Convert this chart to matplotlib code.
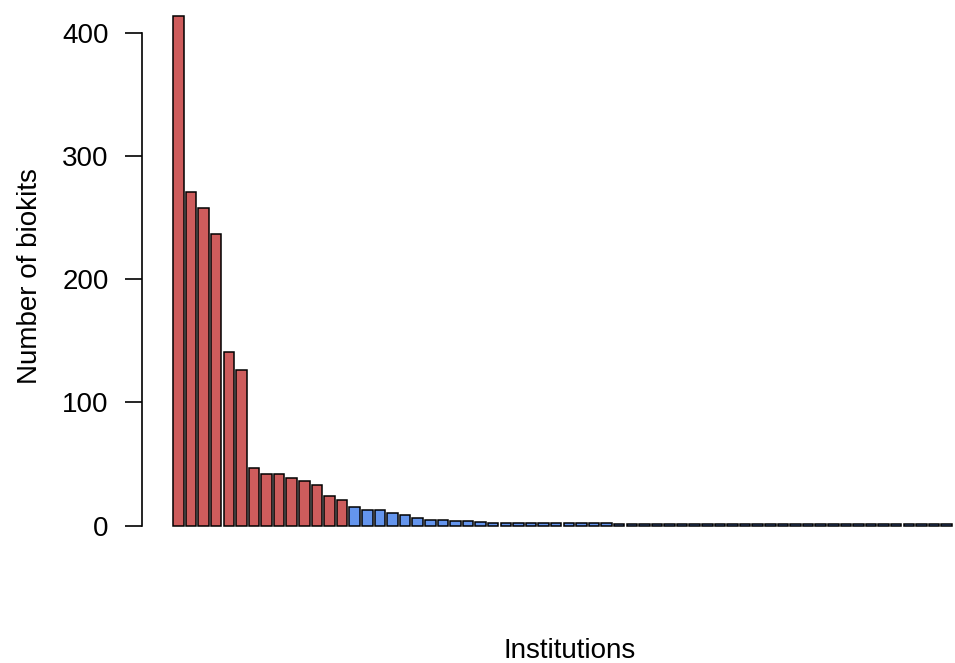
import matplotlib
matplotlib.use("Agg")
import matplotlib.pyplot as plt
import numpy as np

plt.rcParams['font.family'] = ['Liberation Sans', 'DejaVu Sans']

# biokits per institution, sorted descending
top_counts = [414, 271, 258, 237, 141, 126, 47, 42, 42, 39, 36, 33, 24, 21]
mid_counts = [15, 13, 13, 10, 9, 6, 5, 5, 4, 4, 3,
              2, 2, 2, 2, 2, 2, 2, 2, 2, 2]
low_counts = [1] * 27

counts = top_counts + mid_counts + low_counts
colors = ["indianred"] * len(top_counts) + ["cornflowerblue"] * (len(mid_counts) + len(low_counts))

n = len(counts)
# R barplot layout: width 1, space 0.2
x_left = 0.2 + 1.2 * np.arange(n)
xmin, xmax = 0.2, 1.2 * n
xpad = 0.04 * (xmax - xmin)
ymax = max(counts)
ypad = 0.04 * ymax

W, H = 955, 663
fig = plt.figure(figsize=(W / 100, H / 100), dpi=100)

# plot region in pixels (may run past the figure edge, like the original)
left_px, right_px = 142, 983
top_px, bot_px = -4.8, 546.1
ax = fig.add_axes([left_px / W, (H - bot_px) / H,
                   (right_px - left_px) / W, (bot_px - top_px) / H])

ax.bar(x_left, counts, width=1.0, align='edge', color=colors,
       edgecolor='black', linewidth=1.1)

ax.set_xlim(xmin - xpad, xmax + xpad)
ax.set_ylim(-ypad, ymax + ypad)

for s in ['top', 'right', 'bottom']:
    ax.spines[s].set_visible(False)
ax.spines['left'].set_bounds(0, 400)
ax.spines['left'].set_linewidth(1.2)
ax.set_yticks([0, 100, 200, 300, 400])
ax.tick_params(axis='y', length=12.5, width=1.2, pad=11.5, labelsize=20)
ax.set_xticks([])
ax.patch.set_visible(False)

fig.text(30 / W, 1 - 276 / H, "Number of biokits", rotation=90,
         ha='center', va='center', fontsize=20)
fig.text(570 / W, 1 - 651 / H, "Institutions", ha='center', va='center',
         fontsize=20)

fig.savefig("out.png", dpi=100, facecolor='white')
